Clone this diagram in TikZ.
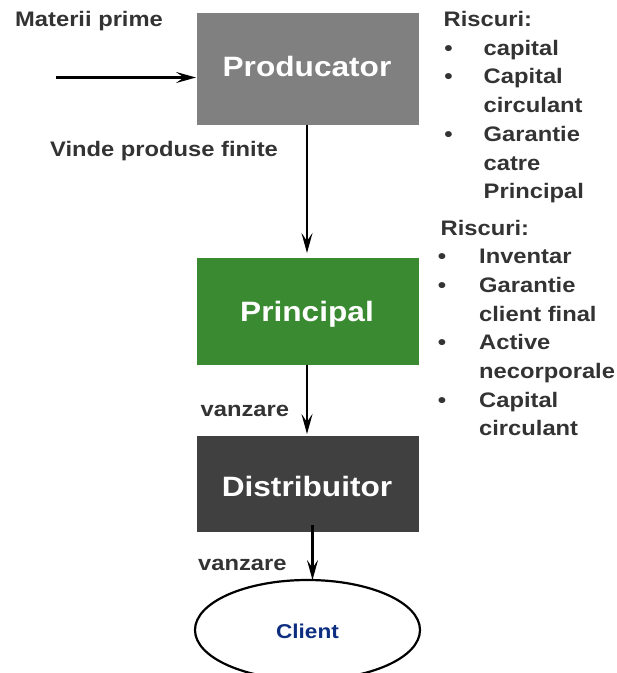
\documentclass[tikz,border=0pt]{standalone}
\usepackage{fontspec}
\setmainfont{Liberation Sans}[FakeStretch=1.13]
\usetikzlibrary{arrows.meta}
\definecolor{txt}{HTML}{333333}
\definecolor{prodgray}{HTML}{808080}
\definecolor{princgreen}{HTML}{3A8A32}
\definecolor{distgray}{HTML}{404040}
\definecolor{navy}{HTML}{0D2D80}
\tikzset{
  lbl/.style={inner sep=0pt, anchor=base west, text=txt, font=\fontsize{21}{25}\selectfont\bfseries},
  bul/.style={inner sep=0pt, anchor=base, text=txt, font=\fontsize{21}{25}\selectfont\bfseries},
  boxtxt/.style={inner sep=0pt, anchor=base, text=white, font=\fontsize{28}{32}\selectfont\bfseries},
  flow/.style={line width=2.6pt, -{Stealth[length=20pt,width=11pt,inset=8pt]}},
  blk/.style={draw=none, inner sep=0pt}
}
\begin{document}
\begin{tikzpicture}[x=1pt,y=-1pt]
\useasboundingbox (0,0) rectangle (617,673);
\clip (0,0) rectangle (617,673);
% boxes
\fill[prodgray] (197,13) rectangle (419,125);
\coordinate (prodW) at (196,77.5);
\coordinate (prodS) at (307,125);
\fill[princgreen] (197,258) rectangle (419,364.5);
\coordinate (princN) at (307,253);
\coordinate (princS) at (307,364.5);
\fill[distgray] (197,436) rectangle (419,531.5);
\coordinate (distN) at (307,434);
\coordinate (distS) at (312.5,525);
\node[boxtxt] (prodT) at (307,76.7) {Producator};
\node[boxtxt] (princT) at (307,321.5) {Principal};
\node[boxtxt] (distT) at (307,496) {Distribuitor};
% client
\draw[line width=2.2pt] (307.5,630) ellipse [x radius=112.5, y radius=50];
\coordinate (cliN) at (312.5,580);
\node[inner sep=0pt, anchor=base, text=navy, font=\fontsize{20}{24}\selectfont\bfseries] (cliT) at (307.5,638) {Client};
% arrows
\coordinate (inS) at (56,77.5);
\draw[flow] (inS) -- (prodW);
\draw[flow] (prodS) -- (princN);
\draw[flow] (princS) -- (distN);
\draw[flow] (distS) -- (cliN);
% labels
\node[lbl] (mat) at (15,26) {Materii prime};
\node[lbl] (vinde) at (50,156) {Vinde produse finite};
\node[lbl] (v1) at (200.5,416) {vanzare};
\node[lbl] (v2) at (198,570) {vanzare};
% risk block 1
\node[lbl] (r1h) at (443.5,26.5) {Riscuri:};
\foreach \t/\b [count=\i] in {capital/1,Capital/1,circulant/0,Garantie/1,catre/0,Principal/0}{
  \node[lbl] (r1l\i) at (483.5,{26.5+28.7*\i}) {\t};
  \ifnum\b=1 \node[bul] (r1b\i) at (448.5,{26.5+28.7*\i}) {•};\fi
}
% risk block 2
\node[lbl] (r2h) at (440.5,235) {Riscuri:};
\foreach \t/\b [count=\i] in {Inventar/1,Garantie/1,client final/0,Active/1,necorporale/0,Capital/1,circulant/0}{
  \node[lbl] (r2l\i) at (479,{235+28.7*\i}) {\t};
  \ifnum\b=1 \node[bul] (r2b\i) at (442,{235+28.7*\i}) {•};\fi
}
\end{tikzpicture}
\end{document}
